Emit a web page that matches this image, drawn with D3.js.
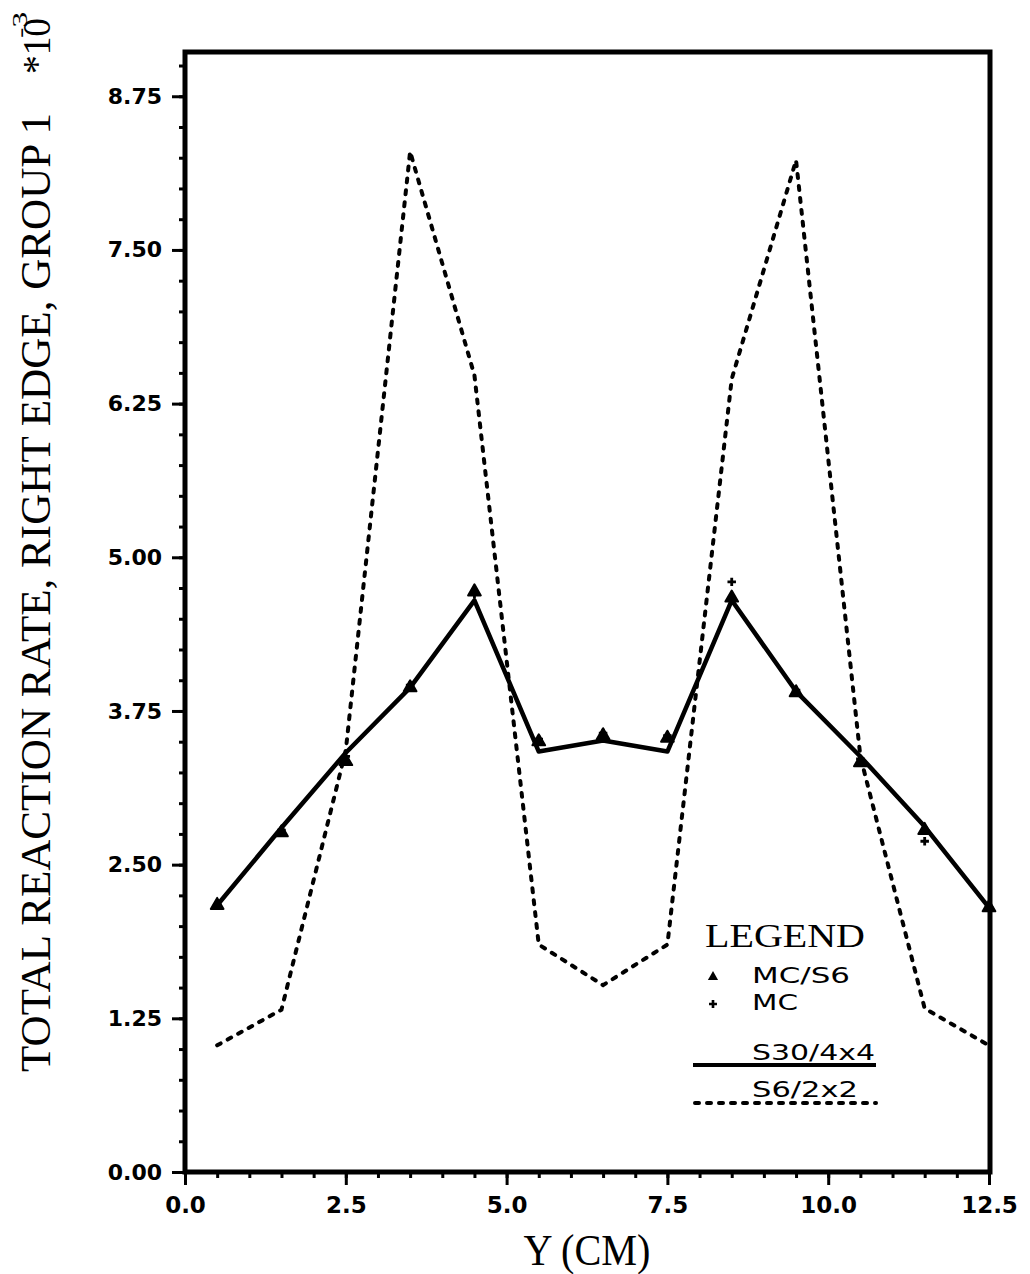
<!DOCTYPE html>
<html>
<head>
<meta charset="utf-8">
<script src="https://cdn.jsdelivr.net/npm/d3@7"></script>
<style>
  html, body { margin: 0; padding: 0; background: #fff; }
  svg { display: block; }
</style>
</head>
<body>
<script>
// Positions along the right edge (cm)
const positions = [0.5, 1.5, 2.5, 3.5, 4.5, 5.5, 6.5, 7.5, 8.5, 9.5, 10.5, 11.5, 12.5];
// Reaction rate (x 1e-3) per solution
const rateS30 = [2.17, 2.80, 3.41, 3.94, 4.65, 3.42, 3.51, 3.42, 4.65, 3.91, 3.38, 2.81, 2.15];
const rateS6  = [1.03, 1.32, 3.43, 8.30, 6.48, 1.85, 1.52, 1.85, 6.45, 8.23, 3.38, 1.33, 1.03];
const rateMCS6 = [2.17, 2.76, 3.34, 3.94, 4.72, 3.50, 3.55, 3.53, 4.67, 3.90, 3.33, 2.78, 2.15];
const rateMC   = [2.17, 2.78, 3.38, 3.96, 4.70, 3.52, 3.57, 3.55, 4.80, 3.92, 3.36, 2.69, 2.15];

const xTicks = [0, 2.5, 5, 7.5, 10, 12.5];
const xTickLabels = ["0.0", "2.5", "5.0", "7.5", "10.0", "12.5"];
const yTicks = [0, 1.25, 2.5, 3.75, 5, 6.25, 7.5, 8.75];
const yTickLabels = ["0.00", "1.25", "2.50", "3.75", "5.00", "6.25", "7.50", "8.75"];

(function draw() {
  const W = 1030, H = 1274;
  const plotL = 185, plotR = 990, plotT = 52, plotB = 1172;

  const svg = d3.select("body").append("svg").attr("width", W).attr("height", H);

  const x = d3.scaleLinear().domain([0, 12.5]).range([plotL, 989]);
  const y = d3.scaleLinear().domain([0, 9.11]).range([plotB, plotT]);

  const tickFont = "'DejaVu Sans', sans-serif";
  const serif = "'Liberation Serif', 'Times New Roman', serif";

  // Minor ticks
  const xMinor = d3.range(0, 12.5001, 0.5);
  const yMinor = d3.range(0, 9.0001, 0.25);

  const xAxisMinor = d3.axisBottom(x).tickValues(xMinor).tickSize(6).tickFormat("");
  const xAxisMajor = d3.axisBottom(x).tickValues(xTicks).tickSize(13)
    .tickFormat((d, i) => xTickLabels[i]).tickPadding(12);
  const yAxisMinor = d3.axisLeft(y).tickValues(yMinor).tickSize(6).tickFormat("");
  const yAxisMajor = d3.axisLeft(y).tickValues(yTicks).tickSize(13)
    .tickFormat((d, i) => yTickLabels[i]).tickPadding(10);

  function styleAxis(g) {
    g.select(".domain").remove();
    g.selectAll(".tick line").attr("stroke", "#000").attr("stroke-width", 3);
    g.selectAll(".tick text")
      .attr("fill", "#000")
      .style("font-family", tickFont)
      .style("font-weight", "bold")
      .style("font-size", "22px");
  }

  svg.append("g").attr("transform", `translate(0,${plotB})`).call(xAxisMinor).call(styleAxis);
  svg.append("g").attr("transform", `translate(0,${plotB})`).call(xAxisMajor).call(styleAxis)
    .selectAll(".tick text").style("font-size", "23px");
  svg.append("g").attr("transform", `translate(${plotL},0)`).call(yAxisMinor).call(styleAxis);
  svg.append("g").attr("transform", `translate(${plotL},0)`).call(yAxisMajor).call(styleAxis);

  // Frame
  svg.append("rect")
    .attr("x", plotL).attr("y", plotT)
    .attr("width", plotR - plotL).attr("height", plotB - plotT)
    .attr("fill", "none").attr("stroke", "#000").attr("stroke-width", 5);

  const line = d3.line().x(d => x(d[0])).y(d => y(d[1]));

  // S6/2x2 dashed curve
  svg.append("path")
    .datum(positions.map((p, i) => [p, rateS6[i]]))
    .attr("d", line)
    .attr("fill", "none").attr("stroke", "#000")
    .attr("stroke-width", 4).attr("stroke-linecap", "round")
    .attr("stroke-dasharray", "4,8");

  // S30/4x4 solid curve
  svg.append("path")
    .datum(positions.map((p, i) => [p, rateS30[i]]))
    .attr("d", line)
    .attr("fill", "none").attr("stroke", "#000")
    .attr("stroke-width", 4.5).attr("stroke-linejoin", "round");

  // MC/S6 triangles
  const tri = d3.symbol().type(d3.symbolTriangle).size(70);
  svg.append("g").selectAll("path")
    .data(positions.map((p, i) => [p, rateMCS6[i]]))
    .join("path")
    .attr("d", tri)
    .attr("transform", d => `translate(${x(d[0])},${y(d[1])})`)
    .attr("fill", "#000").attr("stroke", "#000").attr("stroke-width", 2)
    .attr("stroke-linejoin", "round");

  // MC plus marks
  const plus = d3.symbol().type(d3.symbolCross).size(40);
  svg.append("g").selectAll("path")
    .data(positions.map((p, i) => [p, rateMC[i]]))
    .join("path")
    .attr("d", plus)
    .attr("transform", d => `translate(${x(d[0])},${y(d[1])})`)
    .attr("fill", "#000");

  // Axis titles
  svg.append("text")
    .attr("x", 587).attr("y", 1265)
    .attr("text-anchor", "middle")
    .attr("textLength", 127).attr("lengthAdjust", "spacingAndGlyphs")
    .style("font-family", serif).style("font-size", "44px")
    .text("Y (CM)");

  svg.append("text")
    .attr("transform", "translate(50,1072) rotate(-90)")
    .attr("textLength", 959).attr("lengthAdjust", "spacingAndGlyphs")
    .style("font-family", serif).style("font-size", "42px")
    .text("TOTAL REACTION RATE, RIGHT EDGE, GROUP 1");

  svg.append("text")
    .attr("transform", "translate(50,74) rotate(-90)")
    .attr("textLength", 56).attr("lengthAdjust", "spacingAndGlyphs")
    .style("font-family", serif).style("font-size", "40px")
    .text("*10");

  svg.append("text")
    .attr("transform", "translate(27,38) rotate(-90)")
    .attr("textLength", 26).attr("lengthAdjust", "spacingAndGlyphs")
    .style("font-family", serif).style("font-size", "20px")
    .text("-3");

  // Legend
  const lg = svg.append("g");
  lg.append("text")
    .attr("x", 705).attr("y", 947)
    .attr("textLength", 160).attr("lengthAdjust", "spacingAndGlyphs")
    .style("font-family", serif).style("font-size", "34px")
    .text("LEGEND");

  lg.append("path").attr("d", d3.symbol().type(d3.symbolTriangle).size(45))
    .attr("transform", "translate(713,977)").attr("fill", "#000");
  lg.append("text")
    .attr("x", 752).attr("y", 983)
    .attr("textLength", 98).attr("lengthAdjust", "spacingAndGlyphs")
    .style("font-family", tickFont).style("font-size", "21px")
    .text("MC/S6");

  lg.append("path").attr("d", d3.symbol().type(d3.symbolCross).size(35))
    .attr("transform", "translate(713,1004)").attr("fill", "#000");
  lg.append("text")
    .attr("x", 752).attr("y", 1010)
    .attr("textLength", 46).attr("lengthAdjust", "spacingAndGlyphs")
    .style("font-family", tickFont).style("font-size", "21px")
    .text("MC");

  lg.append("text")
    .attr("x", 752).attr("y", 1060)
    .attr("textLength", 123).attr("lengthAdjust", "spacingAndGlyphs")
    .style("font-family", tickFont).style("font-size", "21px")
    .text("S30/4x4");
  lg.append("line")
    .attr("x1", 693).attr("x2", 876).attr("y1", 1065).attr("y2", 1065)
    .attr("stroke", "#000").attr("stroke-width", 4);

  lg.append("text")
    .attr("x", 752).attr("y", 1097)
    .attr("textLength", 106).attr("lengthAdjust", "spacingAndGlyphs")
    .style("font-family", tickFont).style("font-size", "21px")
    .text("S6/2x2");
  lg.append("line")
    .attr("x1", 695).attr("x2", 876).attr("y1", 1103).attr("y2", 1103)
    .attr("stroke", "#000").attr("stroke-width", 4)
    .attr("stroke-linecap", "round").attr("stroke-dasharray", "4,8");
})();
</script>
</body>
</html>
